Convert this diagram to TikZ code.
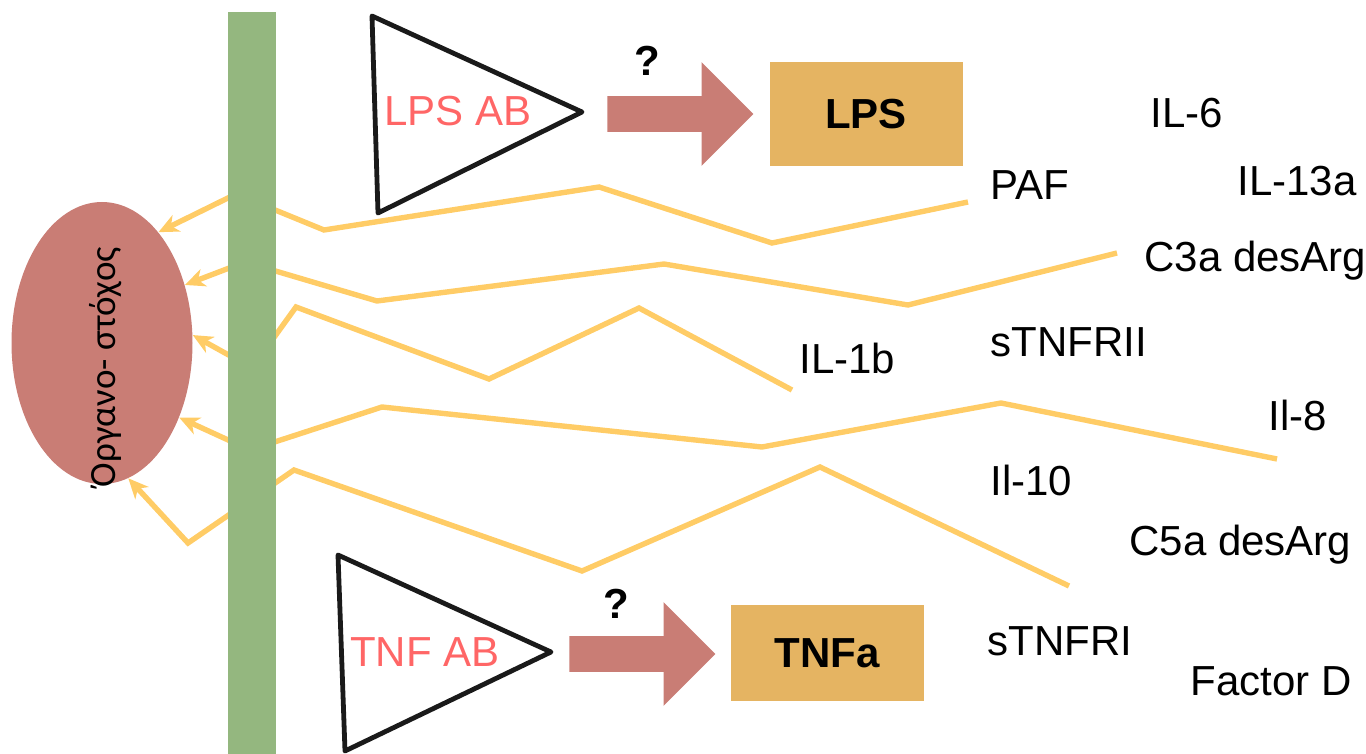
\documentclass[tikz,border=0pt]{standalone}
\usepackage{fontspec}
\setmainfont{Liberation Sans}
\newfontfamily\greekfont{Carlito}
\usetikzlibrary{arrows.meta,shapes.geometric,shapes.arrows,positioning}

\definecolor{bargreen}{RGB}{148,183,127}
\definecolor{rosewood}{RGB}{201,125,117}
\definecolor{gold}{RGB}{229,180,98}
\definecolor{mediator}{RGB}{255,204,102}
\definecolor{abred}{RGB}{255,102,102}
\definecolor{ink}{RGB}{26,26,26}

\newcommand{\labelsize}{\fontsize{21}{25}\selectfont}

\tikzset{
  mediator/.style={draw=mediator, line width=2.7pt},
  hit/.style={mediator, -{Stealth[length=10pt,width=9pt,inset=3pt]}},
  antibody/.style={draw=ink, line width=2.4pt, line join=round},
  ablabel/.style={text=abred, font=\labelsize, inner sep=0pt, anchor=base},
  fatarrow/.style={single arrow, fill=rosewood, inner xsep=0pt, inner ysep=8.75pt,
    single arrow head extend=17pt, minimum height=73pt, anchor=tail},
  agent/.style={fill=gold, minimum width=96.5pt, font=\labelsize\bfseries},
  query/.style={font=\labelsize\bfseries, inner sep=0pt, anchor=base},
  factor/.style={font=\labelsize, inner sep=0pt, anchor=base west},
}

\begin{document}
\begin{tikzpicture}[x=0.5pt, y=-0.5pt]
  \useasboundingbox (0,0) rectangle (1366,754);

  % target organ
  \node[ellipse, fill=rosewood, minimum width=90.5pt, minimum height=141pt, inner sep=0pt] (organ) at (102,343) {};
  \node[rotate=90, font=\greekfont\fontsize{18.5}{22}\selectfont] (organname) at (106,367) {Όργανο- στόχος};

  % mediators crossing the barrier
  \coordinate (pafend) at (968,202);
  \coordinate (c3aend) at (1117,253);
  \coordinate (il1bend) at (792,390);
  \coordinate (il8end) at (1277,459);
  \coordinate (stnfriend) at (1069,586);
  \draw[hit] (pafend) -- (772,243) -- (599,187) -- (324,230) -- (236,194) -- (organ.63);
  \draw[hit] (c3aend) -- (908,305) -- (664,264) -- (377,301) -- (245,262) -- (organ.35);
  \draw[hit] (il1bend) -- (639,308) -- (489,379) -- (296,307) -- (252,368) -- (organ.5);
  \draw[hit] (il8end) -- (1001,403) -- (762,447) -- (382,407) -- (250,450) -- (organ.-44);
  \draw[hit] (stnfriend) -- (820,467) -- (582,571) -- (294,470) -- (188,543) -- (organ.-79);

  \node[fill=bargreen, minimum width=24pt, minimum height=371pt, inner sep=0pt] (barrier) at (252,383) {};

  % LPS antibody
  \coordinate (lpsabtop) at (372,16);
  \coordinate (lpsabbottom) at (378,213);
  \coordinate (lpsabtip) at (582,112);
  \draw[antibody] (lpsabtop) -- (lpsabtip) -- (lpsabbottom) -- cycle;
  \node[ablabel] (lpsab) at (458,126) {LPS AB};
  \node[fatarrow] (lpsarrow) at (607,114) {};
  \node[query] (lpsquery) at (647,76) {?};
  \node[agent, minimum height=52pt] (lps) at (866,114) {LPS};

  % TNF antibody
  \coordinate (tnfabtop) at (338,555);
  \coordinate (tnfabbottom) at (345,751);
  \coordinate (tnfabtip) at (551,652);
  \draw[antibody] (tnfabtop) -- (tnfabtip) -- (tnfabbottom) -- cycle;
  \node[ablabel] (tnfab) at (425,666) {TNF AB};
  \node[fatarrow] (tnfarrow) at (569,654) {};
  \node[query] (tnfquery) at (616,618) {?};
  \node[agent, minimum height=48pt] (tnfa) at (827,653) {TNFa};

  \node[factor] (il6) at (1150,128) {IL-6};
  \node[factor] (il13a) at (1237,196) {IL-13a};
  \node[factor] (paf) at (990,200) {PAF};
  \node[factor] (c3a) at (1144,272) {C3a desArg};
  \node[factor] (stnfrii) at (990,357) {sTNFRII};
  \node[factor] (il1b) at (799,373) {IL-1b};
  \node[factor] (il8) at (1268,430) {Il-8};
  \node[factor] (il10) at (990,495) {Il-10};
  \node[factor] (c5a) at (1129,555) {C5a desArg};
  \node[factor] (stnfri) at (987,655) {sTNFRI};
  \node[factor] (factord) at (1190,695) {Factor D};
\end{tikzpicture}
\end{document}
